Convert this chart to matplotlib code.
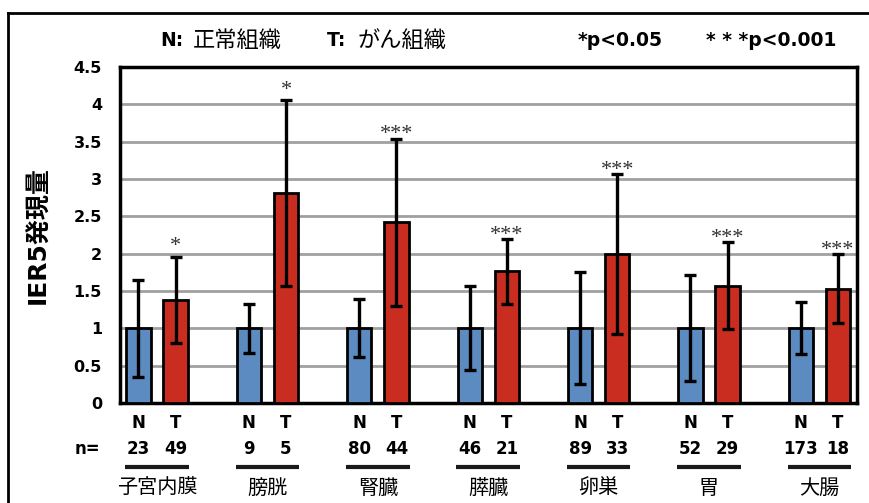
import numpy as np
import matplotlib.pyplot as plt
from matplotlib.lines import Line2D
from matplotlib.transforms import blended_transform_factory

plt.rcParams['font.family'] = ['DejaVu Sans', 'Noto Sans CJK JP']

organs = ['子宮内膜', '膀胱', '腎臓', '膵臓', '卵巣', '胃', '大腸']
n_normal = [23, 9, 80, 46, 89, 52, 173]
n_tumor = [49, 5, 44, 21, 33, 29, 18]

normal_mean = [1, 1, 1, 1, 1, 1, 1]
normal_err = [0.65, 0.33, 0.39, 0.56, 0.75, 0.71, 0.35]
tumor_mean = [1.38, 2.81, 2.42, 1.76, 1.99, 1.57, 1.53]
tumor_err = [0.58, 1.24, 1.12, 0.43, 1.07, 0.58, 0.46]
stars = ['*', '*', '***', '***', '***', '***', '***']

blue = '#5b8bc0'
red = '#c92d1f'

fig = plt.figure(figsize=(8.7, 5.03), dpi=100)
ax = fig.add_axes([0.138, 0.199, 0.847, 0.668])

x = np.arange(len(organs))
off = 0.168
w = 0.22
ekw = dict(elinewidth=2.4, capsize=4.5, capthick=2.4, ecolor='black')

ax.bar(x - off, normal_mean, w, yerr=normal_err, color=blue, edgecolor='black',
       linewidth=2, error_kw=ekw, zorder=3)
ax.bar(x + off, tumor_mean, w, yerr=tumor_err, color=red, edgecolor='black',
       linewidth=2, error_kw=ekw, zorder=3)

# significance marks above the tumour error bars
for xi, m, e, s in zip(x, tumor_mean, tumor_err, stars):
    dy = 7 if s == '*' else 3
    ax.annotate(s, (xi + off, m + e), xytext=(0, dy), textcoords='offset points',
                ha='center', va='center', fontsize=16, color='#333333',
                family='Liberation Serif')

ax.set_xlim(-0.335, 6.34)
ax.set_ylim(0, 4.5)
ax.set_yticks(np.arange(0, 4.51, 0.5))
ax.set_yticklabels(['0', '0.5', '1', '1.5', '2', '2.5', '3', '3.5', '4', '4.5'],
                   fontsize=11.5, fontweight='bold')
ax.tick_params(axis='y', length=0, pad=13)
ax.set_xticks([])
ax.grid(axis='y', color='#a0a0a0', linewidth=2, zorder=0)
ax.set_axisbelow(True)
for sp in ax.spines.values():
    sp.set_linewidth(2.5)

ax.set_ylabel('IER5発現量', fontsize=18, fontweight='bold', labelpad=17)

# labels under the bars
tr = blended_transform_factory(ax.transData, ax.transAxes)
lbl = dict(transform=tr, ha='center', va='center', fontsize=12, fontweight='bold')
for xi, nn, nt, name in zip(x, n_normal, n_tumor, organs):
    ax.text(xi - off, -0.06, 'N', **lbl)
    ax.text(xi + off, -0.06, 'T', **lbl)
    ax.text(xi - off, -0.137, str(nn), **lbl)
    ax.text(xi + off, -0.137, str(nt), **lbl)
    ax.plot([xi - off - 0.12, xi + off + 0.12], [-0.19, -0.19], transform=tr,
            color='#1a1a1a', linewidth=3, clip_on=False, solid_capstyle='butt')
    ax.text(xi, -0.254, name, transform=tr, ha='center', va='center',
            fontsize=14.5)
ax.text(-0.027, -0.137, 'n=', transform=ax.transAxes, ha='right', va='center',
        fontsize=12, fontweight='bold')

fig.text(0.184, 0.92, 'N:', fontsize=13.5, fontweight='bold', va='center')
fig.text(0.222, 0.92, '正常組織', fontsize=16, va='center')
fig.text(0.376, 0.92, 'T:', fontsize=13.5, fontweight='bold', va='center')
fig.text(0.411, 0.92, 'がん組織', fontsize=16, va='center')
fig.text(0.664, 0.92, '*p<0.05', fontsize=13.5, fontweight='bold', va='center')
fig.text(0.811, 0.92, '* * *p<0.001', fontsize=13.5, fontweight='bold', va='center')

# outer frame
fig.add_artist(Line2D([0.0092, 0.0092], [0.974, -0.01], color='black', linewidth=2))
fig.add_artist(Line2D([0.0092, 1.01], [0.974, 0.974], color='black', linewidth=2))

fig.savefig('out.png', dpi=100)
